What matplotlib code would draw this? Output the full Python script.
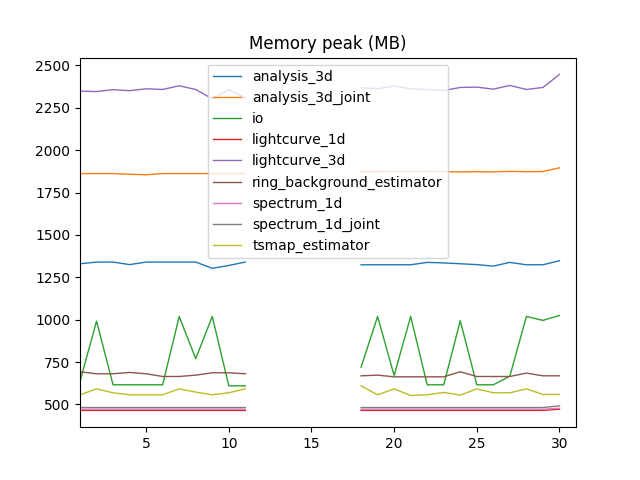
import numpy as np
import matplotlib
matplotlib.use("Agg")
import matplotlib.pyplot as plt

nan = np.nan

# benchmark runs 1..31, runs 12-17 and 31 missing
runs = list(range(1, 32))
gap = [nan] * 6

analysis_3d = ([1330, 1340, 1340, 1325, 1340, 1340, 1340, 1340, 1303, 1320, 1340] + gap
               + [1324, 1324, 1324, 1324, 1338, 1335, 1330, 1325, 1316, 1338, 1324, 1324, 1348, nan])
analysis_3d_joint = ([1862, 1862, 1862, 1858, 1855, 1862, 1862, 1862, 1862, 1862, 1862] + gap
                     + [1873, 1873, 1874, 1874, 1875, 1873, 1872, 1873, 1872, 1875, 1873, 1874, 1896, nan])
io = ([636, 991, 616, 616, 616, 616, 1019, 770, 1019, 610, 610] + gap
      + [720, 1019, 671, 1019, 616, 616, 994, 616, 616, 667, 1019, 996, 1025, nan])
lightcurve_1d = ([465] * 11) + gap + ([465] * 12) + [472, nan]
lightcurve_3d = ([2348, 2346, 2357, 2351, 2362, 2358, 2380, 2358, 2303, 2357, 2309] + gap
                 + [2368, 2362, 2378, 2362, 2358, 2352, 2370, 2372, 2360, 2382, 2358, 2370, 2447, nan])
ring_background_estimator = ([693, 681, 681, 689, 681, 665, 665, 673, 687, 687, 681] + gap
                             + [669, 673, 663, 663, 663, 663, 693, 665, 665, 665, 685, 669, 669, nan])
spectrum_1d = ([472] * 11) + gap + ([472] * 12) + [478, nan]
spectrum_1d_joint = ([482] * 11) + gap + ([482] * 12) + [492, nan]
tsmap_estimator = ([557, 592, 569, 557, 557, 557, 592, 573, 557, 569, 592] + gap
                   + [610, 557, 592, 553, 557, 571, 555, 592, 569, 569, 592, 559, 559, nan])

series = [
    ("analysis_3d", analysis_3d),
    ("analysis_3d_joint", analysis_3d_joint),
    ("io", io),
    ("lightcurve_1d", lightcurve_1d),
    ("lightcurve_3d", lightcurve_3d),
    ("ring_background_estimator", ring_background_estimator),
    ("spectrum_1d", spectrum_1d),
    ("spectrum_1d_joint", spectrum_1d_joint),
    ("tsmap_estimator", tsmap_estimator),
]

colors = ["#1f77b4", "#ff7f0e", "#2ca02c", "#d62728", "#9467bd",
          "#8c564b", "#e377c2", "#7f7f7f", "#bcbd22"]

fig, ax = plt.subplots(figsize=(6.4, 4.8), dpi=100)
for (name, vals), c in zip(series, colors):
    ax.plot(runs, vals, color=c, lw=1, label=name)

ax.set_xlim(runs[0], runs[-1])
ax.set_title("Memory peak (MB)")
ax.legend(loc="upper center")

fig.savefig("out.png")
